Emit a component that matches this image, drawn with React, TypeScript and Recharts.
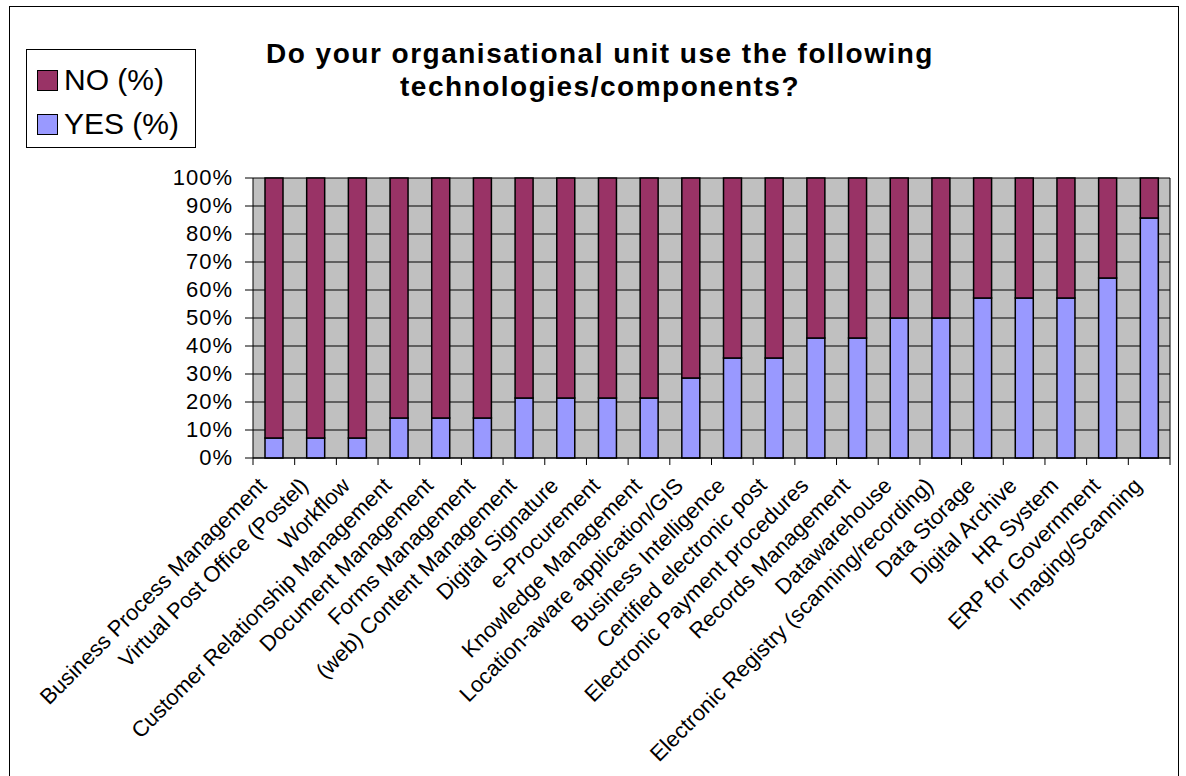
import React from "react";
import { BarChart, Bar, XAxis, YAxis, CartesianGrid } from "recharts";

const categories = [
  "Business Process Management",
  "Virtual Post Office (Postel)",
  "Workflow",
  "Customer Relationship Management",
  "Document Management",
  "Forms Management",
  "(web) Content Management",
  "Digital Signature",
  "e-Procurement",
  "Knowledge Management",
  "Location-aware application/GIS",
  "Business Intelligence",
  "Certified electronic post",
  "Electronic Payment procedures",
  "Records Management",
  "Datawarehouse",
  "Electronic Registry (scanning/recording)",
  "Data Storage",
  "Digital Archive",
  "HR System",
  "ERP for Government",
  "Imaging/Scanning",
];

const yesPct = [7.1, 7.1, 7.1, 14.3, 14.3, 14.3, 21.4, 21.4, 21.4, 21.4, 28.6, 35.7, 35.7, 42.9, 42.9, 50, 50, 57.1, 57.1, 57.1, 64.3, 85.7];
const noPct = [92.9, 92.9, 92.9, 85.7, 85.7, 85.7, 78.6, 78.6, 78.6, 78.6, 71.4, 64.3, 64.3, 57.1, 57.1, 50, 50, 42.9, 42.9, 42.9, 35.7, 14.3];

const yTicks = [0, 10, 20, 30, 40, 50, 60, 70, 80, 90, 100];

const data = categories.map((name, i) => ({ name, yes: yesPct[i], no: noPct[i] }));

const FONT = "'Liberation Sans', Arial, sans-serif";
const YES_COLOR = "#9999FF";
const NO_COLOR = "#993366";

const PLOT_LEFT = 253;
const PLOT_RIGHT = 1170;
const PLOT_TOP = 178;
const PLOT_BOTTOM = 458;
const BAND = (PLOT_RIGHT - PLOT_LEFT) / categories.length;

function XTick(props: any) {
  const { x, y, payload, index } = props;
  const isLast = index === categories.length - 1;
  const tx = x - 6;
  const ty = y + 21;
  return (
    <g>
      <line x1={x - BAND / 2} x2={x - BAND / 2} y1={y - 8} y2={y - 1} stroke="#000" />
      {isLast && <line x1={x + BAND / 2} x2={x + BAND / 2} y1={y - 8} y2={y - 1} stroke="#000" />}
      <text
        x={tx}
        y={ty}
        transform={`rotate(-45, ${tx}, ${ty})`}
        textAnchor="end"
        fontSize={22}
        fontFamily={FONT}
        fill="#000"
      >
        {payload.value}
      </text>
    </g>
  );
}

function YTick(props: any) {
  const { y, payload } = props;
  return (
    <text
      x={PLOT_LEFT - 20}
      y={y}
      dy={7}
      textAnchor="end"
      fontSize={22}
      letterSpacing={1}
      fontFamily={FONT}
      fill="#000"
    >
      {`${payload.value}%`}
    </text>
  );
}

function LegendBox() {
  const items = [
    { label: "NO (%)", color: NO_COLOR },
    { label: "YES (%)", color: YES_COLOR },
  ];
  return (
    <div
      style={{
        position: "absolute",
        left: 26,
        top: 49,
        border: "1px solid #000",
        background: "#fff",
        width: 170,
        height: 99,
        boxSizing: "border-box",
        padding: "8px 0 0 10px",
        fontFamily: FONT,
        fontSize: 30,
      }}
    >
      {items.map((it) => (
        <div key={it.label} style={{ display: "flex", alignItems: "center", height: 44 }}>
          <span
            style={{
              display: "inline-block",
              width: 19,
              height: 19,
              background: it.color,
              border: "1.5px solid #000",
              marginRight: 6,
            }}
          />
          <span>{it.label}</span>
        </div>
      ))}
    </div>
  );
}

export default function App() {
  return (
    <div style={{ position: "fixed", left: 0, top: 0, width: 1186, height: 776, background: "#fff" }}>
      <div
        style={{
          position: "absolute",
          left: 9,
          top: 6,
          width: 1170,
          height: 780,
          border: "1px solid #000",
          boxSizing: "border-box",
        }}
      />
      <div
        style={{
          position: "absolute",
          left: 200,
          top: 37,
          width: 800,
          textAlign: "center",
          fontFamily: FONT,
          fontWeight: "bold",
          fontSize: 28,
          letterSpacing: 1.5,
          lineHeight: "33px",
        }}
      >
        Do your organisational unit use the following
        <br />
        technologies/components?
      </div>
      <LegendBox />
      <BarChart
        width={1186}
        height={776}
        data={data}
        margin={{ top: PLOT_TOP, right: 1186 - PLOT_RIGHT, left: PLOT_LEFT - 70, bottom: 776 - PLOT_BOTTOM - 300 }}
        barSize={18}
        style={{ position: "absolute", left: 0, top: 0 }}
      >
        <CartesianGrid
          vertical={true}
          horizontal={true}
          verticalPoints={[PLOT_RIGHT]}
          stroke="#000"
          fill="#C0C0C0"
          fillOpacity={1}
        />
        <XAxis
          dataKey="name"
          interval={0}
          height={300}
          tickLine={false}
          axisLine={{ stroke: "#000" }}
          tick={<XTick />}
        />
        <YAxis
          width={70}
          domain={[0, 100]}
          ticks={yTicks}
          axisLine={{ stroke: "#000" }}
          tickLine={{ stroke: "#000" }}
          tickSize={8}
          tick={<YTick />}
          interval={0}
        />
        <Bar dataKey="yes" stackId="a" fill={YES_COLOR} stroke="#000" strokeWidth={1.5} isAnimationActive={false} />
        <Bar dataKey="no" stackId="a" fill={NO_COLOR} stroke="#000" strokeWidth={1.5} isAnimationActive={false} />
      </BarChart>
    </div>
  );
}
